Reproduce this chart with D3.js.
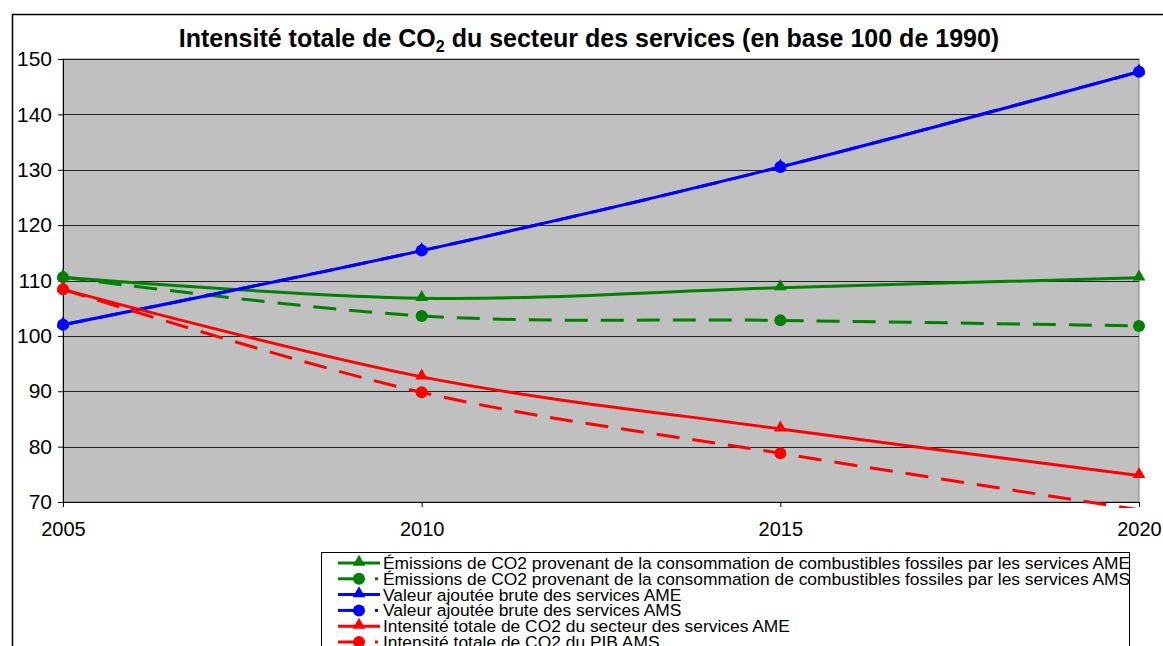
<!DOCTYPE html>
<html>
<head>
<meta charset="utf-8">
<script src="https://cdn.jsdelivr.net/npm/d3@7"></script>
<style>
  body { margin: 0; background: #fff; }
  svg { display: block; font-family: Arial, "Liberation Sans", sans-serif; }
</style>
</head>
<body>
<svg width="1163" height="646"></svg>
<script>
// Data
var years = [2005, 2010, 2015, 2020];
var greenAME = [110.6, 106.8, 108.7, 110.5];
var greenAMS = [110.6, 103.6, 102.8, 101.8];
var blueAME = [102.0, 115.4, 130.5, 147.7];
var blueAMS = [102.0, 115.4, 130.5, 147.7];
var redAME = [108.4, 92.6, 83.2, 74.8];
var redAMS = [108.4, 89.8, 78.8, 68.6];
var yTicks = [70, 80, 90, 100, 110, 120, 130, 140, 150];

var labels = [
  "Émissions de CO2 provenant de la consommation de combustibles fossiles par les services AME",
  "Émissions de CO2 provenant de la consommation de combustibles fossiles par les services AMS",
  "Valeur ajoutée brute des services AME",
  "Valeur ajoutée brute des services AMS",
  "Intensité totale de CO2 du secteur des services AME",
  "Intensité totale de CO2 du PIB AMS"
];

var series = [
  {values: greenAME, color: "#008000", dashed: false, marker: "triangle"},
  {values: greenAMS, color: "#008000", dashed: true, marker: "circle"},
  {values: blueAME, color: "#0000FF", dashed: false, marker: "triangle"},
  {values: blueAMS, color: "#0000FF", dashed: true, marker: "circle"},
  {values: redAME, color: "#FF0000", dashed: false, marker: "triangle"},
  {values: redAMS, color: "#FF0000", dashed: true, marker: "circle"}
];

var plot = {left: 63, top: 59, right: 1139, bottom: 502};
var fontFam = "Arial, 'Liberation Sans', sans-serif";

var svg = d3.select("svg");

// outer chart border (runs off the picture on right and bottom)
svg.append("rect")
  .attr("x", 12.5).attr("y", 14.5)
  .attr("width", 1170).attr("height", 700)
  .attr("fill", "#fff")
  .attr("stroke", "#000")
  .attr("stroke-width", 1.5);

var x = d3.scaleLinear().domain([2005, 2020]).range([plot.left, plot.right]);
var y = d3.scaleLinear().domain([70, 150]).range([plot.bottom, plot.top]);

// plot background
svg.append("rect")
  .attr("x", plot.left).attr("y", plot.top)
  .attr("width", plot.right - plot.left)
  .attr("height", plot.bottom - plot.top)
  .attr("fill", "#C0C0C0")
  .attr("stroke", "#808080")
  .attr("stroke-width", 1);

// gridlines
svg.append("g")
  .selectAll("line")
  .data(yTicks.slice(1))
  .enter()
  .append("line")
  .attr("x1", plot.left).attr("x2", plot.right)
  .attr("y1", function(d){ return Math.round(y(d)) + 0.5; })
  .attr("y2", function(d){ return Math.round(y(d)) + 0.5; })
  .attr("stroke", "#222")
  .attr("stroke-width", 1);

// y axis
var yAxis = d3.axisLeft(y).tickValues(yTicks).tickSize(5).tickPadding(6);
var gy = svg.append("g")
  .attr("transform", "translate(" + plot.left + ",0)")
  .call(yAxis);
gy.select(".domain").attr("stroke", "#000");
gy.selectAll("text").attr("font-size", 21).attr("fill", "#000")
  .attr("font-family", fontFam);

// x axis
var xAxis = d3.axisBottom(x).tickValues(years).tickFormat(d3.format("d")).tickSize(5).tickPadding(15);
var gx = svg.append("g")
  .attr("transform", "translate(0," + plot.bottom + ")")
  .call(xAxis);
gx.select(".domain").attr("stroke", "#000");
gx.selectAll("text").attr("font-size", 20).attr("fill", "#000")
  .attr("font-family", fontFam);

// clip lines to plot area (a little slack below like the original)
svg.append("clipPath").attr("id", "clip")
  .append("rect")
  .attr("x", plot.left - 10).attr("y", plot.top - 10)
  .attr("width", plot.right - plot.left + 20)
  .attr("height", plot.bottom - plot.top + 16);

// Excel-style smoothed lines
var line = d3.line()
  .x(function(d, i){ return x(years[i]); })
  .y(function(d){ return y(d); })
  .curve(d3.curveCardinal.tension(0));

var gLines = svg.append("g").attr("clip-path", "url(#clip)");

series.forEach(function(s) {
  gLines.append("path")
    .datum(s.values)
    .attr("d", line)
    .attr("fill", "none")
    .attr("stroke", s.color)
    .attr("stroke-width", 3)
    .attr("stroke-dasharray", s.dashed ? "23,13" : null);
});

var triangle = d3.symbol().type(d3.symbolTriangle).size(70);

series.forEach(function(s) {
  s.values.forEach(function(v, i) {
    if (v < 70 || v > 150) return;
    if (s.marker == "triangle") {
      svg.append("path")
        .attr("d", triangle)
        .attr("transform", "translate(" + x(years[i]) + "," + (y(v) - 1) + ")")
        .attr("fill", s.color);
    } else {
      svg.append("circle")
        .attr("cx", x(years[i])).attr("cy", y(v))
        .attr("r", 6)
        .attr("fill", s.color);
    }
  });
});

// title
var title = svg.append("text")
  .attr("x", 589).attr("y", 47)
  .attr("text-anchor", "middle")
  .attr("font-size", 25)
  .attr("font-weight", "bold")
  .attr("fill", "#000");
title.append("tspan").text("Intensité totale de CO");
title.append("tspan").attr("font-size", 16).attr("dy", 5).text("2");
title.append("tspan").attr("dy", -5).text(" du secteur des services (en base 100 de 1990)");

// legend
var legend = svg.append("g");
legend.append("rect")
  .attr("x", 321.5).attr("y", 552.5)
  .attr("width", 808).attr("height", 120)
  .attr("fill", "#fff")
  .attr("stroke", "#000")
  .attr("stroke-width", 1);

var rowY = d3.scaleLinear().domain([0, 5]).range([563, 642]);

series.forEach(function(s, i) {
  var ry = rowY(i);
  var g = legend.append("g");
  if (s.dashed) {
    g.append("line").attr("x1", 338).attr("x2", 361).attr("y1", ry).attr("y2", ry)
      .attr("stroke", s.color).attr("stroke-width", 3);
    g.append("line").attr("x1", 375).attr("x2", 378).attr("y1", ry).attr("y2", ry)
      .attr("stroke", s.color).attr("stroke-width", 3);
  } else {
    g.append("line").attr("x1", 338).attr("x2", 380).attr("y1", ry).attr("y2", ry)
      .attr("stroke", s.color).attr("stroke-width", 3);
  }
  if (s.marker == "triangle") {
    g.append("path").attr("d", triangle)
      .attr("transform", "translate(359," + (ry - 1) + ")")
      .attr("fill", s.color);
  } else {
    g.append("circle").attr("cx", 359).attr("cy", ry).attr("r", 6).attr("fill", s.color);
  }
  g.append("text")
    .attr("x", 383).attr("y", ry + 6)
    .attr("font-size", 17.4)
    .attr("font-family", fontFam)
    .attr("fill", "#000")
    .text(labels[i]);
});
</script>
</body>
</html>
